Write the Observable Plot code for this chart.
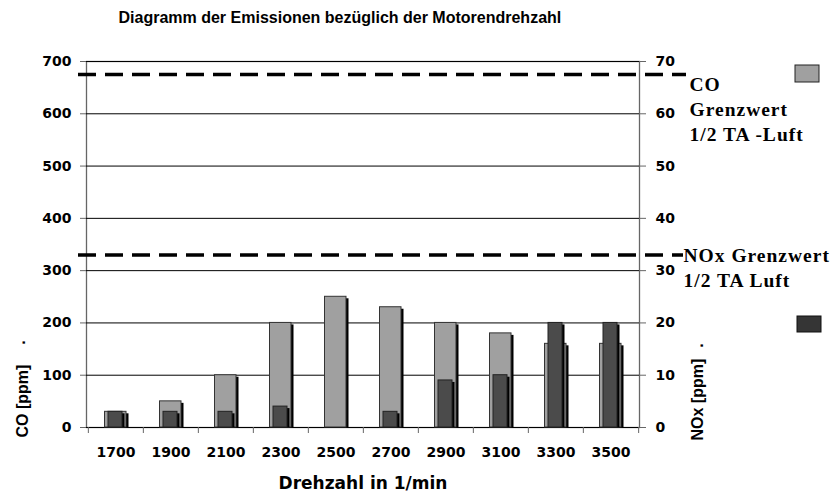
<!DOCTYPE html>
<html><head><meta charset="utf-8">
<script src="https://cdn.jsdelivr.net/npm/d3@7"></script>
<script src="https://cdn.jsdelivr.net/npm/@observablehq/plot@0.6"></script>
<style>
body{margin:0;background:#fff;}
g[font-family="Liberation Serif"] text{letter-spacing:1px;}
</style></head><body><div id="chart"></div>
<script>
const categories = ["1700","1900","2100","2300","2500","2700","2900","3100","3300","3500"];
const coValues = [30,50,100,200,250,230,200,180,160,160];
const noxValues = [3,3,3,4,0,3,9,10,20,20];
const coTicks = [0,100,200,300,400,500,600,700];
const noxTicks = [0,10,20,30,40,50,60,70];
const coLimit = 675;
const noxLimit = 33;
const titleText = "Diagramm der Emissionen bezüglich der Motorendrehzahl";
const xTitle = "Drehzahl in 1/min";
const coTitle = "CO [ppm]";
const noxTitle = "NOx [ppm]";
const coLimitLabel = "CO\nGrenzwert\n1/2 TA -Luft";
const noxLimitLabel = "NOx Grenzwert\n1/2 TA Luft";

const k = coTicks[coTicks.length-1] / noxTicks[noxTicks.length-1];
const rows = categories.map((rpm,i)=>({rpm, co:coValues[i], nox:noxValues[i]*k}));
const noxRows = rows.filter(d=>d.nox>0);
const W=835, H=494, mL=86, mR=196, mT=61, mB=67;
const bw = (W-mL-mR)/categories.length;
const CO_COLOR="#a0a0a0", NOX_COLOR="#4b4b4b";
const sans="DejaVu Sans", arial="Liberation Sans", serif="Liberation Serif";

const chart = Plot.plot({
  width:W, height:H, marginLeft:mL, marginRight:mR, marginTop:mT, marginBottom:mB,
  style:{fontFamily:sans, fontWeight:"bold", fontSize:"14px", color:"#000", background:"#fff", overflow:"visible"},
  x:{type:"band", domain:categories, padding:0, label:null},
  y:{domain:[0,700], label:null},
  marks:[
    Plot.frame({stroke:"#666", strokeWidth:1.3}),
    Plot.ruleY(coTicks, {stroke:"#000", strokeWidth:1}),
    Plot.axisY({anchor:"left", ticks:coTicks, tickSize:6, tickPadding:9, stroke:"#666", fill:"#000", fontSize:14, fontWeight:"bold", label:null}),
    Plot.axisY({anchor:"right", ticks:noxTicks.map(v=>v*k), tickFormat:d=>d/k, tickSize:6, tickPadding:10, stroke:"#666", fill:"#000", fontSize:14, fontWeight:"bold", label:null}),
    Plot.axisX({tickSize:0, tickPadding:20, fontSize:14, fontWeight:"bold", fill:"#000", label:null}),
    Plot.axisX({tickSize:6, text:null, dx:-bw/2, stroke:"#666", label:null}),
    Plot.axisX({ticks:[categories[categories.length-1]], tickSize:6, text:null, dx:bw/2, stroke:"#666", label:null}),
    // CO bars with shadow
    Plot.barY(rows, {x:"rpm", y:"co", fill:"#000", insetLeft:16.5, insetRight:17, dx:2.5, dy:2, insetBottom:2}),
    Plot.barY(rows, {x:"rpm", y:"co", fill:CO_COLOR, stroke:"#333", strokeWidth:1, insetLeft:16.5, insetRight:17}),
    // NOx bars with shadow
    Plot.barY(noxRows, {x:"rpm", y:"nox", fill:"#000", insetLeft:20, insetRight:21, dx:2.5, dy:2, insetBottom:2}),
    Plot.barY(noxRows, {x:"rpm", y:"nox", fill:NOX_COLOR, stroke:"#222", strokeWidth:1, insetLeft:20, insetRight:21}),
    // limits
    Plot.ruleY([coLimit], {stroke:"#000", strokeWidth:3.5, strokeDasharray:"18,9", insetLeft:-8, insetRight:-47}),
    Plot.ruleY([noxLimit*k], {stroke:"#000", strokeWidth:3.5, strokeDasharray:"18,9", insetLeft:-8, insetRight:-44}),
    Plot.text([coLimit], {y:d=>d, text:()=>coLimitLabel, frameAnchor:"right", dx:50, dy:-1, textAnchor:"start", lineAnchor:"top", lineHeight:25/19.5, fontFamily:serif, fontSize:19.5, fontWeight:"bold", fill:"#000"}),
    Plot.text([noxLimit*k], {y:d=>d, text:()=>noxLimitLabel, frameAnchor:"right", dx:44, dy:-11, textAnchor:"start", lineAnchor:"top", lineHeight:25/19.5, fontFamily:serif, fontSize:19.5, fontWeight:"bold", fill:"#000"}),
    // titles
    Plot.text([titleText], {text:d=>d, frameAnchor:"top-left", dx:32, dy:-38.5, textAnchor:"start", lineAnchor:"bottom", fontFamily:arial, fontSize:16, fontWeight:"bold", fill:"#000"}),
    Plot.text([xTitle], {text:d=>d, frameAnchor:"bottom", dy:61, lineAnchor:"bottom", fontFamily:sans, fontSize:17, fontWeight:"bold", fill:"#000"}),
    Plot.text([coTitle], {text:d=>d, frameAnchor:"bottom-left", rotate:-90, dx:-59, dy:10, textAnchor:"start", lineAnchor:"bottom", fontFamily:arial, fontSize:16, fontWeight:"bold", fill:"#000"}),
    Plot.text(["."], {text:d=>d, frameAnchor:"bottom-left", rotate:-90, dx:-62, dy:-85, textAnchor:"middle", lineAnchor:"bottom", fontFamily:arial, fontSize:16, fontWeight:"bold", fill:"#000"}),
    Plot.text([noxTitle], {text:d=>d, frameAnchor:"bottom-right", rotate:-90, dx:63, dy:13, textAnchor:"start", lineAnchor:"bottom", fontFamily:arial, fontSize:16, fontWeight:"bold", fill:"#000"}),
    Plot.text(["."], {text:d=>d, frameAnchor:"bottom-right", rotate:-90, dx:63, dy:-82, textAnchor:"middle", lineAnchor:"bottom", fontFamily:arial, fontSize:16, fontWeight:"bold", fill:"#000"})
  ]
});
const svg = d3.select(chart);
svg.append("rect").attr("x",795).attr("y",65).attr("width",24).attr("height",17).attr("fill",CO_COLOR).attr("stroke","#222");
svg.append("rect").attr("x",797).attr("y",316).attr("width",24).attr("height",16).attr("fill","#353535").attr("stroke","#111");
document.getElementById("chart").appendChild(chart);
</script></body></html>
